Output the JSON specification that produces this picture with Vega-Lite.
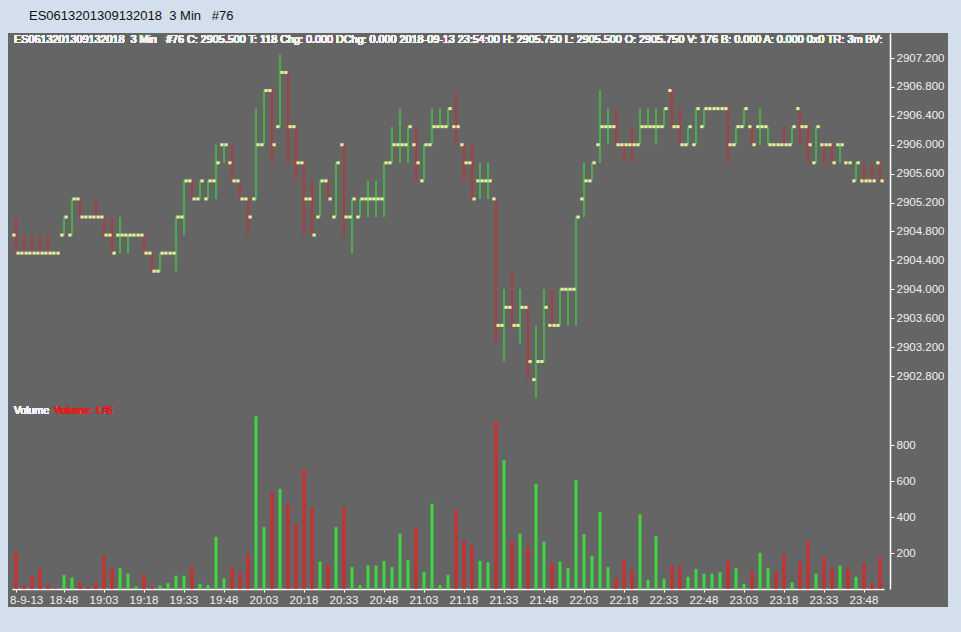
{
  "$schema": "https://vega.github.io/schema/vega-lite/v6.json",
  "width": 940,
  "height": 574,
  "padding": {"left": 8, "top": 10, "right": 13, "bottom": 25},
  "background": "#d3dfec",
  "title": {
    "text": "ES0613201309132018\u00a0\u00a03 Min\u00a0\u00a0\u00a0#76",
    "anchor": "start",
    "frame": "group",
    "font": "Liberation Sans",
    "fontSize": 13,
    "fontWeight": "normal",
    "color": "#111111",
    "offset": 10,
    "dx": 21
  },
  "config": {
    "view": {"fill": "#656565", "stroke": null},
    "font": "Liberation Sans",
    "axis": {"labelFont": "Liberation Sans", "grid": false, "title": null}
  },
  "data": {
    "values": [
      {"t": "18:30", "o": 2904.75, "h": 2905.0, "l": 2904.5, "c": 2904.5, "v": 204, "d": "d"},
      {"t": "18:33", "o": 2904.5, "h": 2904.75, "l": 2904.5, "c": 2904.5, "v": 19, "d": "d"},
      {"t": "18:36", "o": 2904.5, "h": 2904.75, "l": 2904.5, "c": 2904.5, "v": 70, "d": "d"},
      {"t": "18:39", "o": 2904.5, "h": 2904.75, "l": 2904.5, "c": 2904.5, "v": 115, "d": "d"},
      {"t": "18:42", "o": 2904.5, "h": 2904.75, "l": 2904.5, "c": 2904.5, "v": 19, "d": "d"},
      {"t": "18:45", "o": 2904.5, "h": 2904.5, "l": 2904.5, "c": 2904.5, "v": 4, "d": "d"},
      {"t": "18:48", "o": 2904.75, "h": 2905.0, "l": 2904.75, "c": 2905.0, "v": 78, "d": "u"},
      {"t": "18:51", "o": 2904.75, "h": 2905.25, "l": 2904.75, "c": 2905.25, "v": 63, "d": "u"},
      {"t": "18:54", "o": 2905.25, "h": 2905.25, "l": 2905.0, "c": 2905.0, "v": 37, "d": "d"},
      {"t": "18:57", "o": 2905.0, "h": 2905.0, "l": 2905.0, "c": 2905.0, "v": 7, "d": "d"},
      {"t": "19:00", "o": 2905.0, "h": 2905.25, "l": 2905.0, "c": 2905.0, "v": 37, "d": "d"},
      {"t": "19:03", "o": 2905.0, "h": 2905.0, "l": 2904.75, "c": 2904.75, "v": 185, "d": "d"},
      {"t": "19:06", "o": 2904.75, "h": 2905.0, "l": 2904.5, "c": 2904.5, "v": 115, "d": "d"},
      {"t": "19:09", "o": 2904.75, "h": 2905.0, "l": 2904.5, "c": 2904.75, "v": 115, "d": "u"},
      {"t": "19:12", "o": 2904.75, "h": 2904.75, "l": 2904.5, "c": 2904.75, "v": 85, "d": "u"},
      {"t": "19:15", "o": 2904.75, "h": 2904.75, "l": 2904.75, "c": 2904.75, "v": 15, "d": "u"},
      {"t": "19:18", "o": 2904.75, "h": 2904.75, "l": 2904.5, "c": 2904.5, "v": 81, "d": "d"},
      {"t": "19:21", "o": 2904.5, "h": 2904.5, "l": 2904.25, "c": 2904.25, "v": 15, "d": "d"},
      {"t": "19:24", "o": 2904.25, "h": 2904.5, "l": 2904.25, "c": 2904.5, "v": 19, "d": "u"},
      {"t": "19:27", "o": 2904.5, "h": 2904.5, "l": 2904.5, "c": 2904.5, "v": 33, "d": "u"},
      {"t": "19:30", "o": 2904.5, "h": 2905.0, "l": 2904.25, "c": 2905.0, "v": 74, "d": "u"},
      {"t": "19:33", "o": 2905.0, "h": 2905.5, "l": 2904.75, "c": 2905.5, "v": 74, "d": "u"},
      {"t": "19:36", "o": 2905.5, "h": 2905.5, "l": 2905.25, "c": 2905.25, "v": 126, "d": "d"},
      {"t": "19:39", "o": 2905.25, "h": 2905.5, "l": 2905.25, "c": 2905.5, "v": 30, "d": "u"},
      {"t": "19:42", "o": 2905.25, "h": 2905.5, "l": 2905.25, "c": 2905.5, "v": 22, "d": "u"},
      {"t": "19:45", "o": 2905.5, "h": 2906.0, "l": 2905.25, "c": 2905.75, "v": 289, "d": "u"},
      {"t": "19:48", "o": 2906.0, "h": 2906.0, "l": 2905.75, "c": 2906.0, "v": 59, "d": "u"},
      {"t": "19:51", "o": 2905.75, "h": 2906.0, "l": 2905.5, "c": 2905.5, "v": 119, "d": "d"},
      {"t": "19:54", "o": 2905.5, "h": 2905.5, "l": 2905.25, "c": 2905.25, "v": 96, "d": "d"},
      {"t": "19:57", "o": 2905.25, "h": 2905.25, "l": 2904.75, "c": 2905.0, "v": 193, "d": "d"},
      {"t": "20:00", "o": 2905.25, "h": 2906.5, "l": 2905.25, "c": 2906.0, "v": 959, "d": "u"},
      {"t": "20:03", "o": 2906.0, "h": 2906.75, "l": 2906.0, "c": 2906.75, "v": 344, "d": "u"},
      {"t": "20:06", "o": 2906.75, "h": 2906.75, "l": 2905.75, "c": 2906.0, "v": 541, "d": "d"},
      {"t": "20:09", "o": 2906.25, "h": 2907.25, "l": 2906.25, "c": 2907.0, "v": 556, "d": "u"},
      {"t": "20:12", "o": 2907.0, "h": 2907.0, "l": 2905.75, "c": 2906.25, "v": 474, "d": "d"},
      {"t": "20:15", "o": 2906.25, "h": 2906.25, "l": 2905.5, "c": 2905.75, "v": 359, "d": "d"},
      {"t": "20:18", "o": 2905.75, "h": 2905.75, "l": 2904.75, "c": 2905.25, "v": 667, "d": "d"},
      {"t": "20:21", "o": 2905.25, "h": 2905.5, "l": 2904.75, "c": 2904.75, "v": 452, "d": "d"},
      {"t": "20:24", "o": 2905.0, "h": 2905.5, "l": 2905.0, "c": 2905.5, "v": 152, "d": "u"},
      {"t": "20:27", "o": 2905.5, "h": 2905.5, "l": 2905.25, "c": 2905.25, "v": 133, "d": "d"},
      {"t": "20:30", "o": 2905.0, "h": 2905.75, "l": 2905.0, "c": 2905.75, "v": 344, "d": "u"},
      {"t": "20:33", "o": 2906.0, "h": 2906.0, "l": 2904.75, "c": 2905.0, "v": 457, "d": "d"},
      {"t": "20:36", "o": 2905.0, "h": 2905.25, "l": 2904.5, "c": 2905.25, "v": 122, "d": "u"},
      {"t": "20:39", "o": 2905.0, "h": 2905.25, "l": 2905.0, "c": 2905.25, "v": 22, "d": "u"},
      {"t": "20:42", "o": 2905.25, "h": 2905.5, "l": 2905.0, "c": 2905.25, "v": 133, "d": "u"},
      {"t": "20:45", "o": 2905.25, "h": 2905.5, "l": 2905.0, "c": 2905.25, "v": 130, "d": "u"},
      {"t": "20:48", "o": 2905.25, "h": 2905.75, "l": 2905.0, "c": 2905.75, "v": 156, "d": "u"},
      {"t": "20:51", "o": 2905.75, "h": 2906.25, "l": 2905.75, "c": 2906.0, "v": 122, "d": "u"},
      {"t": "20:54", "o": 2906.0, "h": 2906.5, "l": 2905.75, "c": 2906.0, "v": 307, "d": "u"},
      {"t": "20:57", "o": 2906.0, "h": 2906.25, "l": 2905.75, "c": 2906.25, "v": 159, "d": "u"},
      {"t": "21:00", "o": 2906.0, "h": 2906.25, "l": 2905.5, "c": 2905.75, "v": 344, "d": "d"},
      {"t": "21:03", "o": 2905.5, "h": 2906.0, "l": 2905.5, "c": 2906.0, "v": 96, "d": "u"},
      {"t": "21:06", "o": 2906.0, "h": 2906.5, "l": 2906.0, "c": 2906.25, "v": 474, "d": "u"},
      {"t": "21:09", "o": 2906.25, "h": 2906.5, "l": 2906.25, "c": 2906.25, "v": 22, "d": "u"},
      {"t": "21:12", "o": 2906.25, "h": 2906.5, "l": 2906.25, "c": 2906.5, "v": 78, "d": "u"},
      {"t": "21:15", "o": 2906.25, "h": 2906.75, "l": 2906.0, "c": 2906.25, "v": 441, "d": "d"},
      {"t": "21:18", "o": 2906.0, "h": 2906.0, "l": 2905.5, "c": 2905.75, "v": 274, "d": "d"},
      {"t": "21:21", "o": 2905.75, "h": 2906.0, "l": 2905.25, "c": 2905.25, "v": 241, "d": "d"},
      {"t": "21:24", "o": 2905.5, "h": 2905.75, "l": 2905.25, "c": 2905.5, "v": 156, "d": "u"},
      {"t": "21:27", "o": 2905.5, "h": 2905.75, "l": 2905.25, "c": 2905.5, "v": 148, "d": "u"},
      {"t": "21:30", "o": 2905.25, "h": 2905.25, "l": 2903.25, "c": 2903.5, "v": 933, "d": "d"},
      {"t": "21:33", "o": 2903.5, "h": 2904.0, "l": 2903.0, "c": 2903.75, "v": 715, "d": "u"},
      {"t": "21:36", "o": 2903.75, "h": 2904.25, "l": 2903.5, "c": 2903.5, "v": 267, "d": "d"},
      {"t": "21:39", "o": 2903.5, "h": 2904.0, "l": 2903.25, "c": 2903.75, "v": 307, "d": "u"},
      {"t": "21:42", "o": 2903.75, "h": 2903.75, "l": 2902.75, "c": 2903.0, "v": 233, "d": "d"},
      {"t": "21:45", "o": 2902.75, "h": 2903.5, "l": 2902.5, "c": 2903.0, "v": 585, "d": "u"},
      {"t": "21:48", "o": 2903.0, "h": 2904.0, "l": 2903.0, "c": 2903.75, "v": 263, "d": "u"},
      {"t": "21:51", "o": 2903.5, "h": 2904.0, "l": 2903.5, "c": 2903.5, "v": 144, "d": "d"},
      {"t": "21:54", "o": 2903.5, "h": 2904.0, "l": 2903.5, "c": 2904.0, "v": 152, "d": "u"},
      {"t": "21:57", "o": 2904.0, "h": 2904.0, "l": 2903.5, "c": 2904.0, "v": 115, "d": "u"},
      {"t": "22:00", "o": 2904.0, "h": 2905.0, "l": 2903.5, "c": 2905.0, "v": 604, "d": "u"},
      {"t": "22:03", "o": 2905.25, "h": 2905.75, "l": 2905.0, "c": 2905.5, "v": 304, "d": "u"},
      {"t": "22:06", "o": 2905.5, "h": 2905.75, "l": 2905.5, "c": 2905.75, "v": 185, "d": "u"},
      {"t": "22:09", "o": 2906.0, "h": 2906.75, "l": 2905.75, "c": 2906.25, "v": 426, "d": "u"},
      {"t": "22:12", "o": 2906.25, "h": 2906.5, "l": 2906.0, "c": 2906.25, "v": 122, "d": "u"},
      {"t": "22:15", "o": 2906.25, "h": 2906.5, "l": 2906.0, "c": 2906.0, "v": 63, "d": "d"},
      {"t": "22:18", "o": 2906.0, "h": 2906.0, "l": 2905.75, "c": 2906.0, "v": 167, "d": "d"},
      {"t": "22:21", "o": 2906.0, "h": 2906.25, "l": 2905.75, "c": 2906.0, "v": 104, "d": "d"},
      {"t": "22:24", "o": 2906.0, "h": 2906.5, "l": 2906.0, "c": 2906.25, "v": 415, "d": "u"},
      {"t": "22:27", "o": 2906.25, "h": 2906.5, "l": 2906.25, "c": 2906.25, "v": 52, "d": "u"},
      {"t": "22:30", "o": 2906.25, "h": 2906.5, "l": 2906.0, "c": 2906.25, "v": 293, "d": "u"},
      {"t": "22:33", "o": 2906.25, "h": 2906.5, "l": 2906.25, "c": 2906.5, "v": 56, "d": "u"},
      {"t": "22:36", "o": 2906.75, "h": 2906.75, "l": 2906.25, "c": 2906.25, "v": 133, "d": "d"},
      {"t": "22:39", "o": 2906.25, "h": 2906.5, "l": 2906.0, "c": 2906.0, "v": 126, "d": "d"},
      {"t": "22:42", "o": 2906.0, "h": 2906.25, "l": 2906.0, "c": 2906.25, "v": 67, "d": "u"},
      {"t": "22:45", "o": 2906.0, "h": 2906.5, "l": 2906.0, "c": 2906.5, "v": 111, "d": "u"},
      {"t": "22:48", "o": 2906.25, "h": 2906.5, "l": 2906.25, "c": 2906.5, "v": 85, "d": "u"},
      {"t": "22:51", "o": 2906.5, "h": 2906.5, "l": 2906.5, "c": 2906.5, "v": 85, "d": "u"},
      {"t": "22:54", "o": 2906.5, "h": 2906.5, "l": 2906.5, "c": 2906.5, "v": 93, "d": "u"},
      {"t": "22:57", "o": 2906.5, "h": 2906.5, "l": 2905.75, "c": 2906.0, "v": 159, "d": "d"},
      {"t": "23:00", "o": 2906.0, "h": 2906.25, "l": 2906.0, "c": 2906.25, "v": 115, "d": "u"},
      {"t": "23:03", "o": 2906.25, "h": 2906.5, "l": 2906.25, "c": 2906.5, "v": 30, "d": "u"},
      {"t": "23:06", "o": 2906.25, "h": 2906.25, "l": 2906.0, "c": 2906.0, "v": 100, "d": "d"},
      {"t": "23:09", "o": 2906.25, "h": 2906.5, "l": 2906.0, "c": 2906.25, "v": 200, "d": "u"},
      {"t": "23:12", "o": 2906.25, "h": 2906.25, "l": 2906.0, "c": 2906.0, "v": 119, "d": "u"},
      {"t": "23:15", "o": 2906.0, "h": 2906.0, "l": 2906.0, "c": 2906.0, "v": 93, "d": "d"},
      {"t": "23:18", "o": 2906.0, "h": 2906.25, "l": 2906.0, "c": 2906.0, "v": 193, "d": "d"},
      {"t": "23:21", "o": 2906.0, "h": 2906.25, "l": 2906.0, "c": 2906.25, "v": 37, "d": "u"},
      {"t": "23:24", "o": 2906.5, "h": 2906.5, "l": 2906.0, "c": 2906.25, "v": 152, "d": "d"},
      {"t": "23:27", "o": 2906.25, "h": 2906.25, "l": 2905.75, "c": 2906.0, "v": 267, "d": "d"},
      {"t": "23:30", "o": 2905.75, "h": 2906.25, "l": 2905.75, "c": 2906.25, "v": 85, "d": "u"},
      {"t": "23:33", "o": 2906.0, "h": 2906.0, "l": 2905.75, "c": 2906.0, "v": 178, "d": "d"},
      {"t": "23:36", "o": 2906.0, "h": 2906.0, "l": 2905.75, "c": 2905.75, "v": 119, "d": "d"},
      {"t": "23:39", "o": 2906.0, "h": 2906.0, "l": 2905.75, "c": 2906.0, "v": 130, "d": "u"},
      {"t": "23:42", "o": 2905.75, "h": 2905.75, "l": 2905.75, "c": 2905.75, "v": 115, "d": "d"},
      {"t": "23:45", "o": 2905.5, "h": 2905.75, "l": 2905.5, "c": 2905.75, "v": 67, "d": "u"},
      {"t": "23:48", "o": 2905.5, "h": 2905.75, "l": 2905.5, "c": 2905.5, "v": 141, "d": "d"},
      {"t": "23:51", "o": 2905.5, "h": 2905.75, "l": 2905.5, "c": 2905.5, "v": 30, "d": "d"},
      {"t": "23:54", "o": 2905.75, "h": 2905.75, "l": 2905.5, "c": 2905.5, "v": 176, "d": "d"}
    ]
  },
  "encoding": {
    "x": {
      "field": "t",
      "type": "ordinal",
      "sort": null,
      "scale": {"type": "band", "range": [4, 876], "paddingInner": 0, "paddingOuter": 0},
      "axis": {
        "orient": "bottom",
        "offset": -18,
        "values": ["18:30", "18:48", "19:03", "19:18", "19:33", "19:48", "20:03", "20:18", "20:33", "20:48", "21:03", "21:18", "21:33", "21:48", "22:03", "22:18", "22:33", "22:48", "23:03", "23:18", "23:33", "23:48"],
        "labelExpr": "datum.value == '18:30' ? '8-9-13' : datum.label",
        "labelAlign": {"condition": {"test": "datum.value == '18:30'", "value": "left"}, "value": "center"},
        "labelOffset": {"condition": {"test": "datum.value == '18:30'", "value": -6}, "value": 0},
        "labelAngle": 0,
        "labelOverlap": false,
        "labelFlush": false,
        "labelColor": "#f2f2f2",
        "labelFontSize": 11.5,
        "labelPadding": 2,
        "tickSize": 3,
        "tickColor": "#ffffff",
        "domainColor": "#ffffff",
        "domainWidth": 1.5
      }
    },
    "color": {
      "field": "d",
      "type": "nominal",
      "scale": {"domain": ["u", "d"], "range": ["#3cd83c", "#d42a2a"]},
      "legend": null
    }
  },
  "layer": [
    {
      "encoding": {
        "y": {
          "field": "l",
          "type": "quantitative",
          "scale": {"domain": [2899.853, 2907.546], "range": [556, 0], "zero": false, "nice": false},
          "axis": {
            "orient": "right",
            "offset": -58,
            "values": [2902.8, 2903.2, 2903.6, 2904.0, 2904.4, 2904.8, 2905.2, 2905.6, 2906.0, 2906.4, 2906.8, 2907.2],
            "format": ".3f",
            "labelColor": "#f2f2f2",
            "labelFontSize": 11.5,
            "labelPadding": 2,
            "tickSize": 4,
            "tickColor": "#ffffff",
            "domainColor": "#ffffff",
            "domainWidth": 1.5
          }
        }
      },
      "layer": [
        {
          "mark": {"type": "rule", "strokeWidth": 1.3},
          "encoding": {"y2": {"field": "h"}}
        },
        {
          "mark": {"type": "tick", "orient": "horizontal", "size": 3.3, "thickness": 3, "xOffset": -2.1, "opacity": 1},
          "encoding": {"y": {"field": "o", "type": "quantitative"}, "color": {"value": "#e2f0a0"}}
        },
        {
          "mark": {"type": "tick", "orient": "horizontal", "size": 3.3, "thickness": 3, "xOffset": 2.1, "opacity": 1},
          "encoding": {"y": {"field": "c", "type": "quantitative"}, "color": {"value": "#e2f0a0"}}
        },
        {
          "mark": {"type": "text", "align": "left", "baseline": "middle", "dx": -2, "fontSize": 10.8},
          "encoding": {
            "x": {"datum": "18:30"},
            "y": {"datum": 2907.449},
            "text": {"value": "ES0613201309132018\u00a0\u00a03 Min\u00a0\u00a0\u00a0#76 C: 2905.500 T: 118 Chg: 0.000 DChg: 0.000 2018-09-13 23:54:00 H: 2905.750 L: 2905.500 O: 2905.750 V: 176 B: 0.000 A: 0.000 0x0 TR: 3m BV:"},
            "color": {"value": "#f4f4f4"}
          }
        }
      ]
    },
    {
      "encoding": {
        "y": {
          "field": "v",
          "type": "quantitative",
          "scale": {"domain": [-100, 3088.9], "zero": false, "nice": false},
          "axis": {
            "orient": "right",
            "offset": -58,
            "values": [200, 400, 600, 800],
            "format": "d",
            "domain": false,
            "labelColor": "#f2f2f2",
            "labelFontSize": 11.5,
            "labelPadding": 2,
            "tickSize": 4,
            "tickColor": "#ffffff"
          }
        }
      },
      "layer": [
        {
          "mark": {"type": "bar", "size": 3},
          "encoding": {"y2": {"datum": 0}}
        },
        {
          "mark": {"type": "text", "align": "left", "baseline": "middle", "dx": -2, "fontSize": 10.5},
          "encoding": {
            "x": {"datum": "18:30"},
            "y": {"datum": 989},
            "text": {"value": "Volume"},
            "color": {"value": "#f4f4f4"}
          }
        },
        {
          "mark": {"type": "text", "align": "left", "baseline": "middle", "dx": 38, "fontSize": 10.5},
          "encoding": {
            "x": {"datum": "18:30"},
            "y": {"datum": 989},
            "text": {"value": "Volume: 176"},
            "color": {"value": "#e02020"}
          }
        }
      ]
    }
  ],
  "resolve": {"scale": {"y": "independent"}}
}
